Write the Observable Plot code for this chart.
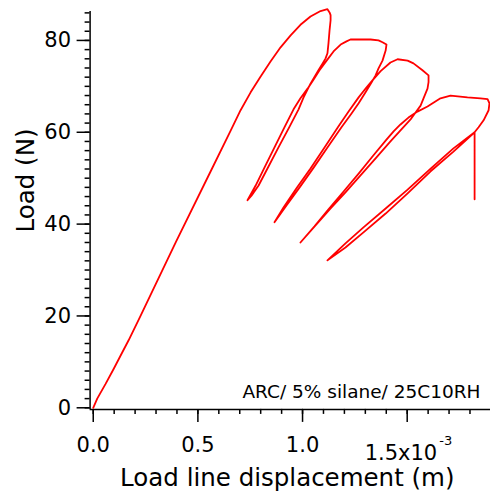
<!DOCTYPE html>
<html>
<head>
<meta charset="utf-8">
<script src="https://cdn.jsdelivr.net/npm/d3@7"></script>
<script src="https://cdn.jsdelivr.net/npm/@observablehq/plot@0.6"></script>
<style>
  html, body { margin: 0; padding: 0; background: #fff; }
</style>
</head>
<body>
<div id="chart"></div>
<script>
// Cyclic load / unload record: [displacement (x10^-3 m), load (N)]
const loading = [
  [0, 0], [0.019, 2.0], [0.059, 5.2], [0.098, 8.5], [0.139, 12.1], [0.169, 14.7],
  [0.226, 20.0], [0.394, 36.0], [0.560, 51.4], [0.656, 60.3], [0.704, 64.8],
  [0.752, 68.7], [0.799, 72.1], [0.847, 75.4], [0.895, 78.5], [0.943, 81.1],
  [0.990, 83.4], [1.038, 85.2], [1.086, 86.4], [1.119, 86.8], [1.129, 86.1],
  [1.134, 85.5], [1.134, 84.4], [1.129, 82.2], [1.124, 79.4], [1.119, 77.2], [1.110, 76.1]
];
const unload1 = [
  [1.096, 75.0], [1.076, 73.5], [1.038, 70.6], [1.005, 67.6], [0.981, 65.0],
  [0.933, 60.8], [0.885, 56.7], [0.838, 52.6], [0.790, 48.4], [0.756, 46.2], [0.737, 45.2]
];
const reload1 = [
  [0.776, 48.4], [0.818, 52.3], [0.866, 56.7], [0.914, 61.1], [0.957, 65.0],
  [0.990, 67.4], [1.024, 69.5], [1.053, 71.5], [1.081, 73.5], [1.115, 75.6],
  [1.148, 77.6], [1.182, 79.1], [1.210, 79.8], [1.229, 80.2], [1.277, 80.2],
  [1.325, 80.2], [1.363, 80.0], [1.382, 79.6], [1.401, 79.1], [1.397, 77.8],
  [1.382, 75.6], [1.363, 73.9], [1.349, 72.4], [1.330, 70.9]
];
const unload2 = [
  [1.301, 68.7], [1.268, 66.3], [1.234, 64.1], [1.186, 61.1], [1.119, 56.7],
  [1.053, 52.3], [0.986, 48.0], [0.924, 44.1], [0.866, 40.4]
];
const reload2 = [
  [0.909, 43.6], [0.971, 47.8], [1.038, 52.1], [1.105, 56.7], [1.172, 61.3],
  [1.220, 64.5], [1.268, 67.6], [1.306, 69.8], [1.334, 71.3], [1.373, 73.3],
  [1.420, 75.2], [1.454, 75.9], [1.502, 75.6], [1.530, 75.0], [1.573, 73.5],
  [1.602, 72.4], [1.602, 70.9], [1.597, 69.5], [1.578, 67.4], [1.564, 65.8], [1.540, 64.3]
];
const unload3 = [
  [1.516, 62.8], [1.468, 60.4], [1.420, 58.0], [1.349, 54.3], [1.277, 50.6],
  [1.205, 46.9], [1.134, 43.4], [1.062, 39.7], [0.990, 36.0]
];
const reload3 = [
  [1.057, 39.5], [1.124, 43.2], [1.196, 47.1], [1.268, 51.0], [1.339, 55.0],
  [1.401, 58.4], [1.435, 60.2], [1.468, 61.7], [1.506, 63.2], [1.549, 64.5],
  [1.597, 65.6], [1.659, 67.4], [1.707, 68.0], [1.788, 67.6], [1.850, 67.4],
  [1.884, 67.2], [1.893, 66.3], [1.889, 64.8], [1.865, 62.6], [1.841, 61.1], [1.822, 60.0]
];
const unload4 = [
  [1.721, 55.8], [1.612, 51.5], [1.502, 46.7], [1.397, 42.3], [1.291, 38.2],
  [1.205, 34.9], [1.119, 32.1]
];
const reload4 = [
  [1.205, 35.8], [1.291, 39.3], [1.397, 43.4], [1.502, 47.5], [1.612, 52.1],
  [1.721, 56.5], [1.822, 60.0]
];
const finalDrop = [[1.822, 45.4]];

// Axis ticks and labels
const xMajorTicks = [0, 0.5, 1.0, 1.5];
const xTickLabels = ["0.0", "0.5", "1.0", ""];
const xExpTick = 1.5;
const xExpMantissa = "1.5x10";
const xExpPower = "-3";
const xMinorTicks = d3.range(0, 1.85, 0.1);
const yMajorTicks = [0, 20, 40, 60, 80];
const yMinorTicks = d3.range(0, 87, 2);
const xTitle = "Load line displacement (m)";
const yTitle = "Load (N)";
const annotation = "ARC/ 5% silane/ 25C10RH";

const xDomain = [-0.015, 1.898];
const yDomain = [-0.35, 86.3];

const record = [...loading, ...unload1, ...reload1, ...unload2, ...reload2,
  ...unload3, ...reload3, ...unload4, ...reload4, ...finalDrop]
  .map(([disp, load]) => ({disp, load}));

const chart = Plot.plot({
  width: 490,
  height: 493,
  marginLeft: 89.6,
  marginRight: 0,
  marginTop: 11,
  marginBottom: 84.1,
  style: {fontFamily: "'DejaVu Sans', Verdana, sans-serif", fontSize: "21px", background: "#fff", color: "#000"},
  x: {domain: xDomain},
  y: {domain: yDomain},
  marks: [
    // minor ticks
    Plot.axisY({ticks: yMinorTicks, tickSize: 5, tickFormat: () => "", label: null, strokeWidth: 1.5}),
    Plot.axisX({ticks: xMinorTicks, tickSize: 5, tickFormat: () => "", label: null, strokeWidth: 1.5}),
    // major ticks with labels
    Plot.axisY({ticks: yMajorTicks, tickSize: 13, tickPadding: 6, tickFormat: d => String(d), label: null, strokeWidth: 1.5, fontSize: 21}),
    Plot.axisX({ticks: xMajorTicks, tickSize: 13, tickPadding: 15,
      tickFormat: d => xTickLabels[xMajorTicks.indexOf(d)], label: null, strokeWidth: 1.5, fontSize: 21}),
    // axis lines
    Plot.ruleX([xDomain[0]], {strokeWidth: 1.5}),
    Plot.ruleY([yDomain[0]], {strokeWidth: 1.5}),
    // scaled tick label with exponent
    Plot.text([{x: xExpTick, t: xExpMantissa}], {x: "x", text: "t", frameAnchor: "bottom",
      textAnchor: "end", lineAnchor: "bottom", dx: 30, dy: 51, fontSize: 21}),
    Plot.text([{x: xExpTick, t: xExpPower}], {x: "x", text: "t", frameAnchor: "bottom",
      textAnchor: "start", lineAnchor: "bottom", dx: 32, dy: 36, fontSize: 13}),
    // axis titles
    Plot.text([xTitle], {frameAnchor: "bottom", lineAnchor: "bottom", dx: -3, dy: 77, fontSize: 24.5}),
    Plot.text([yTitle], {frameAnchor: "left", rotate: -90, lineAnchor: "bottom", dx: -56.6, dy: 22, fontSize: 24.5}),
    // sample description
    Plot.text([annotation], {frameAnchor: "bottom-right", textAnchor: "end", lineAnchor: "bottom",
      dx: -10, dy: -11, fontSize: 18.5}),
    // load-displacement record
    Plot.line(record, {x: "disp", y: "load", stroke: "#ff0000", strokeWidth: 1.8})
  ]
});

document.getElementById("chart").appendChild(chart);
</script>
</body>
</html>
